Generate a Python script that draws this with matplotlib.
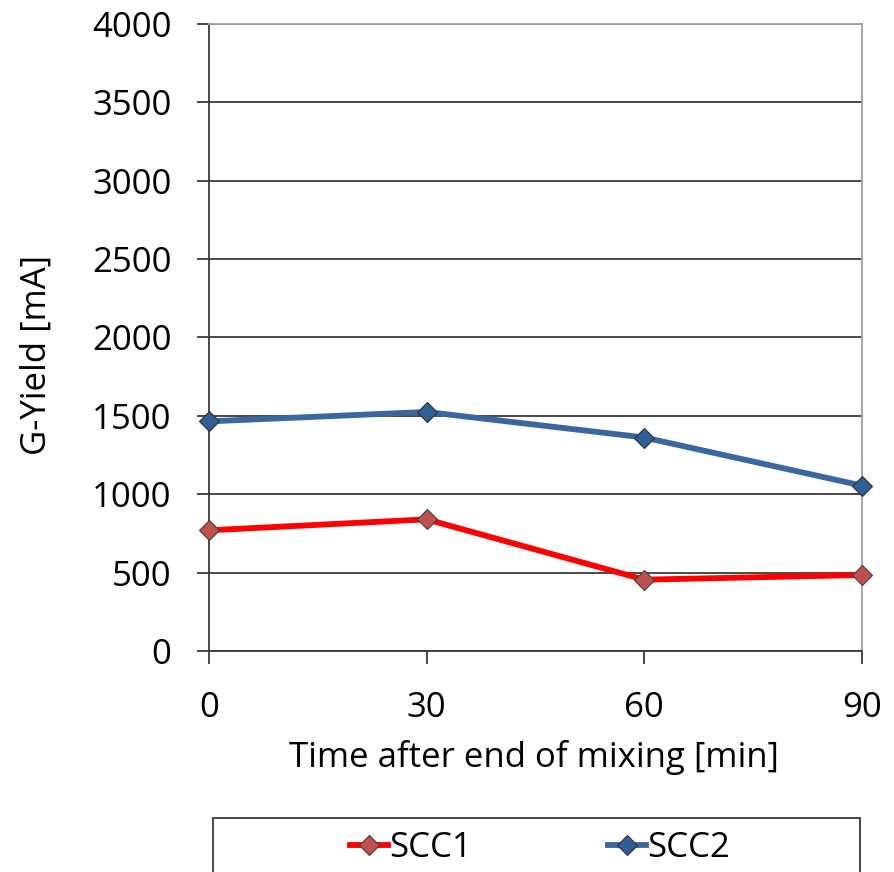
"""G-Yield of two SCC mixes over the time after end of mixing."""
import matplotlib
matplotlib.use("Agg")
import matplotlib.pyplot as plt
from matplotlib.patches import Rectangle

# measured values
time_min = [0, 30, 60, 90]
scc1_yield = [770, 840, 455, 485]
scc2_yield = [1465, 1525, 1362, 1055]
series_names = ["SCC1", "SCC2"]
y_ticks = [0, 500, 1000, 1500, 2000, 2500, 3000, 3500, 4000]

plt.rcParams["font.family"] = ["Open Sans", "DejaVu Sans"]
FS = 25

fig = plt.figure(figsize=(8.94, 8.72), dpi=100)
W, H = 894, 872
ax = fig.add_axes([209 / W, 1 - 651 / H, 653 / W, 627 / H])

ax.plot(time_min, scc1_yield, color="#ff0000", lw=4.2, marker="D", ms=10,
        mfc="#c0504d", mec="#404040", mew=0.8, label=series_names[0],
        clip_on=False, zorder=4)
ax.plot(time_min, scc2_yield, color="#3a67a0", lw=4.2, marker="D", ms=10,
        mfc="#2f5f98", mec="#303030", mew=0.8, label=series_names[1],
        clip_on=False, zorder=4)

ax.set_xlim(0, 90)
ax.set_ylim(0, 4000)
ax.set_xticks(time_min)
ax.set_yticks(y_ticks)
ax.yaxis.grid(True, color="#3a3a3a", lw=1.3)
ax.set_axisbelow(True)

for side in ("top", "right"):
    ax.spines[side].set_color("#a0a0a0")
    ax.spines[side].set_linewidth(1.3)
for side in ("left", "bottom"):
    ax.spines[side].set_color("#3a3a3a")
    ax.spines[side].set_linewidth(1.3)

ax.tick_params(axis="both", direction="out", length=9, width=1.3,
               color="#3a3a3a", labelsize=FS)
ax.tick_params(axis="y", pad=18)
ax.tick_params(axis="x", pad=20)

ax.set_xlabel("Time after end of mixing [min]", fontsize=FS)
ax.set_ylabel("G-Yield [mA]", fontsize=FS)
ax.xaxis.set_label_coords(0.497, -0.142)
ax.yaxis.set_label_coords(-0.238, 0.472)

# legend below the plot, frame drawn by hand so it runs off the bottom edge
handles, labels = ax.get_legend_handles_labels()
fig.legend(handles, labels, ncol=2, frameon=False, fontsize=FS,
           loc="center", bbox_to_anchor=(540 / W, 1 - 848 / H),
           handlelength=1.1, handletextpad=0.05, columnspacing=3.9)
fig.patches.append(Rectangle((213 / W, -0.02), (860 - 213) / W,
                             (872 - 818) / H + 0.02,
                             transform=fig.transFigure, fill=False,
                             ec="#3a3a3a", lw=1.3))

fig.savefig("out.png", dpi=100)
